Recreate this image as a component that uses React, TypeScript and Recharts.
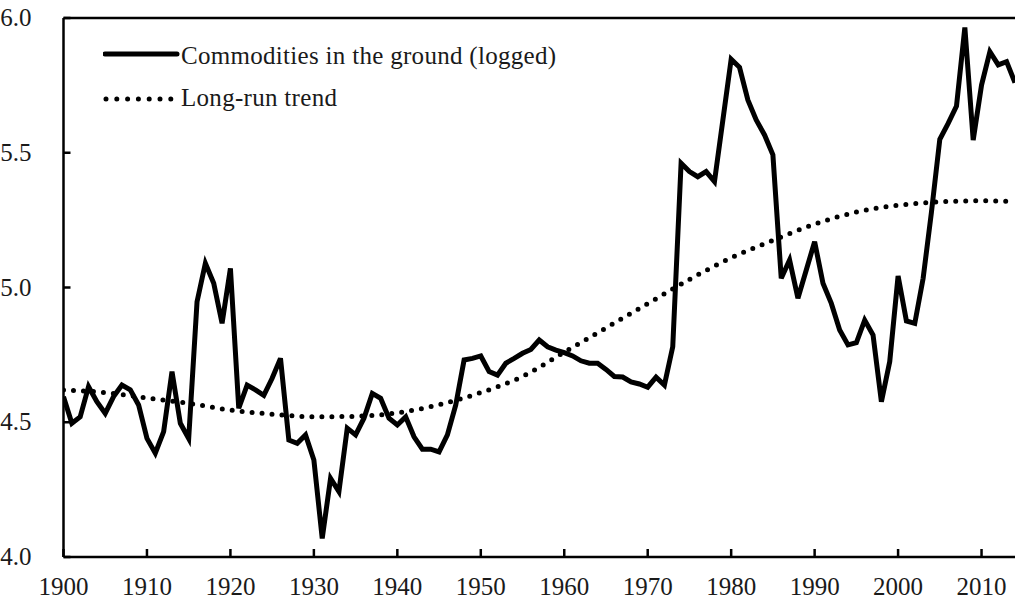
import { LineChart, Line, XAxis, YAxis, ReferenceLine } from "recharts";

// Commodities in the ground (logged), annual values 1900–2014
const years = Array.from({ length: 115 }, (_, i) => 1900 + i);
const groundValues = [
  4.595, 4.496, 4.52, 4.632, 4.576, 4.533, 4.595, 4.638, 4.62, 4.564, // 1900s
  4.44, 4.385, 4.465, 4.688, 4.496, 4.44, 4.947, 5.09, 5.016, 4.867, // 1910s
  5.071, 4.552, 4.638, 4.62, 4.6, 4.663, 4.737, 4.434, 4.422, 4.453, // 1920s
  4.36, 4.069, 4.292, 4.243, 4.478, 4.453, 4.515, 4.607, 4.589, 4.515, // 1930s
  4.49, 4.52, 4.446, 4.4, 4.4, 4.39, 4.453, 4.564, 4.731, 4.737, // 1940s
  4.746, 4.688, 4.675, 4.719, 4.737, 4.756, 4.77, 4.805, 4.78, 4.768, // 1950s
  4.758, 4.746, 4.728, 4.719, 4.719, 4.696, 4.67, 4.668, 4.65, 4.642, // 1960s
  4.63, 4.667, 4.638, 4.78, 5.461, 5.43, 5.411, 5.43, 5.393, 5.62, // 1970s
  5.847, 5.817, 5.696, 5.622, 5.566, 5.492, 5.034, 5.102, 4.96, 5.065, // 1980s
  5.17, 5.016, 4.941, 4.842, 4.787, 4.795, 4.879, 4.824, 4.576, 4.725, // 1990s
  5.043, 4.876, 4.867, 5.034, 5.28, 5.55, 5.609, 5.673, 5.965, 5.547, // 2000s
  5.751, 5.875, 5.826, 5.838, 5.76, // 2010s
];

// Long-run trend, read every five years
const trendYears = [1900, 1905, 1910, 1915, 1920, 1925, 1930, 1935, 1940, 1945, 1950, 1955, 1960, 1965, 1970, 1975, 1980, 1985, 1990, 1995, 2000, 2005, 2010, 2014];
const trendValues = [4.62, 4.61, 4.59, 4.57, 4.545, 4.53, 4.52, 4.522, 4.535, 4.565, 4.61, 4.67, 4.76, 4.85, 4.94, 5.03, 5.11, 5.175, 5.235, 5.28, 5.305, 5.318, 5.322, 5.318];

const xTicks = [1900, 1910, 1920, 1930, 1940, 1950, 1960, 1970, 1980, 1990, 2000, 2010];
const yTicks = [4.0, 4.5, 5.0, 5.5, 6.0];

const seriesLabels = ["Commodities in the ground (logged)", "Long-run trend"];

const groundData = years.map((year, i) => ({ year, value: groundValues[i] }));
const trendData = trendYears.map((year, i) => ({ year, trend: trendValues[i] }));

const FONT = "'Liberation Serif', 'Times New Roman', serif";
const INK = "#000";
const TEXT = "#1a1a1a";

function YTick(props: any) {
  const { x, y, payload } = props;
  return (
    <g>
      <line x1={x} x2={x + 7} y1={y} y2={y} stroke={INK} strokeWidth={2.5} />
      <text x={x - 32} y={y} dy={8} textAnchor="end" fontFamily={FONT} fontSize={25} fill={TEXT}>
        {Number(payload.value).toFixed(1)}
      </text>
    </g>
  );
}

function XTick(props: any) {
  const { x, y, payload } = props;
  return (
    <g>
      <line x1={x} x2={x} y1={y} y2={y - 8} stroke={INK} strokeWidth={2.5} />
      <text x={x} y={y + 38} textAnchor="middle" fontFamily={FONT} fontSize={25} fill={TEXT}>
        {payload.value}
      </text>
    </g>
  );
}

function LegendBox() {
  return (
    <svg width={500} height={90} style={{ display: "block" }}>
      <line x1={2} x2={74} y1={14} y2={14} stroke={INK} strokeWidth={5} strokeLinecap="round" />
      <text x={78} y={23.5} fontFamily={FONT} fontSize={25} letterSpacing={0.3} fill={TEXT}>
        {seriesLabels[0]}
      </text>
      <line x1={3} x2={70} y1={59} y2={59} stroke={INK} strokeWidth={5} strokeDasharray="0 10.8" strokeLinecap="round" />
      <text x={78} y={66} fontFamily={FONT} fontSize={25} letterSpacing={0.3} fill={TEXT}>
        {seriesLabels[1]}
      </text>
    </svg>
  );
}

export default function App() {
  return (
    <div style={{ position: "absolute", left: 0, top: 0, width: 1015, height: 607, overflow: "hidden", background: "#fff" }}>
      <LineChart width={1070} height={607} margin={{ top: 18, right: 5, bottom: 0, left: 0 }}>
        <XAxis
          dataKey="year"
          type="number"
          domain={[1900, 2020]}
          ticks={xTicks}
          allowDataOverflow
          height={50}
          stroke={INK}
          strokeWidth={2.5}
          tickLine={false}
          tickSize={0}
          tickMargin={0}
          tick={<XTick />}
        />
        <YAxis
          type="number"
          domain={[4, 6]}
          ticks={yTicks}
          width={63.5}
          stroke={INK}
          strokeWidth={2.5}
          tickLine={false}
          tickSize={0}
          tickMargin={0}
          tick={<YTick />}
        />
        <ReferenceLine y={6} stroke={INK} strokeWidth={2.5} />
        <ReferenceLine x={2020} stroke={INK} strokeWidth={2.5} />
        <Line
          data={trendData}
          dataKey="trend"
          type="monotone"
          stroke={INK}
          strokeWidth={5}
          strokeDasharray="0 10"
          strokeLinecap="round"
          dot={false}
          isAnimationActive={false}
        />
        <Line
          data={groundData}
          dataKey="value"
          type="linear"
          stroke={INK}
          strokeWidth={5}
          strokeLinejoin="miter"
          dot={false}
          isAnimationActive={false}
        />
      </LineChart>
      <div style={{ position: "absolute", left: 103, top: 40 }}>
        <LegendBox />
      </div>
    </div>
  );
}
